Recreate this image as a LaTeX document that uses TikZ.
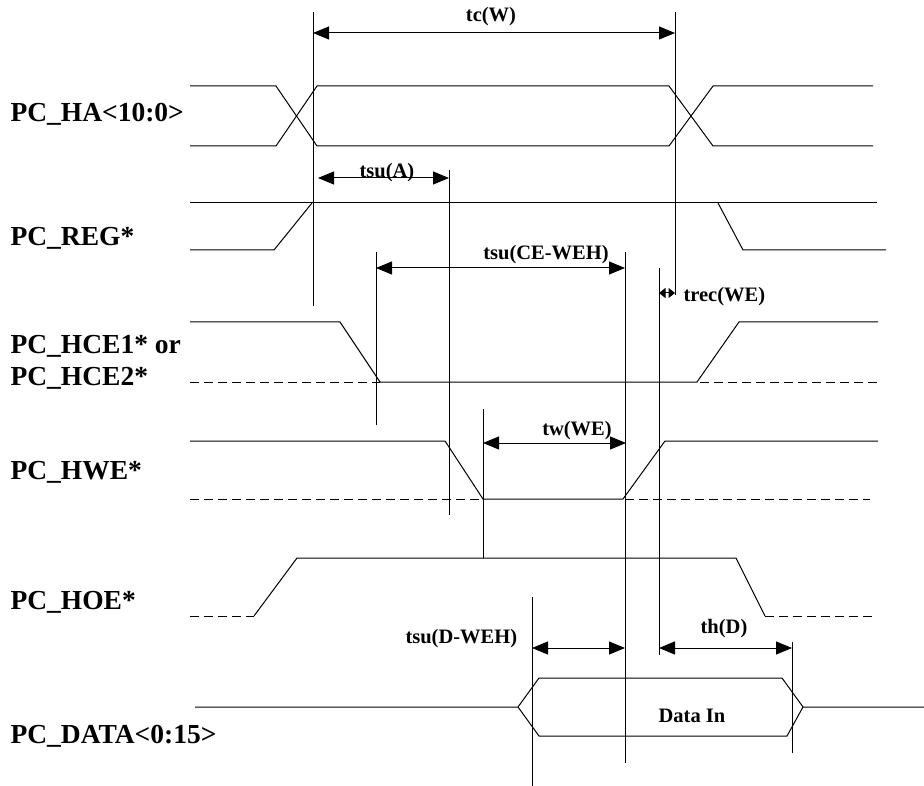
\documentclass[tikz,border=0pt]{standalone}
\usepackage{fontspec}
\setmainfont{Liberation Serif}
\usetikzlibrary{arrows.meta}
\begin{document}
\begin{tikzpicture}[x=1pt,y=-1pt,line width=1pt,
  sig/.style={draw=black},
  dsig/.style={draw=black,dash pattern=on 9pt off 5pt},
  guide/.style={draw=black,line width=0.9pt},
  dim/.style={{Triangle[length=16pt,width=13pt]}-{Triangle[length=16pt,width=13pt]}},
  sdim/.style={{Triangle[length=6.5pt,width=10pt]}-{Triangle[length=6.5pt,width=10pt]}},
  siglabel/.style={anchor=base west,inner sep=0pt,font=\bfseries\fontsize{27.5}{32}\selectfont},
  tlabel/.style={anchor=base,inner sep=0pt,font=\bfseries\fontsize{20.5}{24}\selectfont},
  tlabelw/.style={tlabel,anchor=base west}]
\useasboundingbox (0,0) rectangle (924,786);

% signal names
\node[siglabel] (lha)   at (10,122) {PC\_HA<10:0>};
\node[siglabel] (lreg)  at (10,246) {PC\_REG*};
\node[siglabel] (lce1)  at (10,353) {PC\_HCE1* or};
\node[siglabel] (lce2)  at (10,385) {PC\_HCE2*};
\node[siglabel] (lhwe)  at (10,479) {PC\_HWE*};
\node[siglabel] (lhoe)  at (10,609) {PC\_HOE*};
\node[siglabel] (ldata) at (10,743) {PC\_DATA<0:15>};

% PC_HA bus
\draw[sig] (190,86) -- (276,86) -- (317,146) -- (669,146) -- (713,86) -- (873,86);
\draw[sig] (190,146) -- (276,146) -- (317,86) -- (669,86) -- (713,146) -- (873,146);

% PC_REG*
\draw[sig] (190,250) -- (274,250) -- (312,203);
\draw[sig] (190,203) -- (877,203);
\draw[sig] (718,203) -- (743,250) -- (886,250);

% PC_HCE*
\draw[sig] (190,322) -- (340,322) -- (380,382) -- (697,382) -- (739,322) -- (878,322);
\draw[dsig] (190,382) -- (380,382);
\draw[dsig] (700,382) -- (878,382);

% PC_HWE*
\draw[sig] (190,441) -- (445,441) -- (483,499) -- (623,499) -- (665,441) -- (878,441);
\draw[dsig] (190,499) -- (483,499);
\draw[dsig] (625,499) -- (870,499);

% PC_HOE*
\draw[dsig] (190,616) -- (254,616);
\draw[sig] (254,616) -- (297,558) -- (736,558) -- (765,616);
\draw[dsig] (765,616) -- (873,616);

% PC_DATA bus
\draw[sig] (195,707) -- (518,707) -- (539,678) -- (782,678) -- (803,707) -- (924,707);
\draw[sig] (518,707) -- (539,736) -- (787,736) -- (803,707);
\node[tlabel] (datain) at (692,722) {Data In};

% guide lines
\coordinate (g1t) at (313,12);  \coordinate (g1b) at (313,306);
\coordinate (g2t) at (675,12);  \coordinate (g2b) at (675,295);
\coordinate (g3t) at (449,170); \coordinate (g3b) at (449,515);
\coordinate (g4t) at (376,252); \coordinate (g4b) at (376,425);
\coordinate (g5t) at (625,252); \coordinate (g5b) at (625,763);
\coordinate (g6t) at (659,268); \coordinate (g6b) at (659,655);
\coordinate (g7t) at (483,409); \coordinate (g7b) at (483,558);
\coordinate (g8t) at (532,597); \coordinate (g8b) at (532,786);
\coordinate (g9t) at (792,642); \coordinate (g9b) at (792,753);
\foreach \g in {1,...,9} {\draw[guide] (g\g t) -- (g\g b);}

% timing arrows
\coordinate (tcL) at (313,33);  \coordinate (tcR) at (675,33);
\draw[dim] (tcL) -- (tcR);
\node[tlabel] (ltc) at (491,22) {tc(W)};

\coordinate (suAL) at (318,178); \coordinate (suAR) at (449,178);
\draw[dim] (suAL) -- (suAR);
\node[tlabel] (lsuA) at (387,178) {tsu(A)};

\coordinate (ceL) at (376,268); \coordinate (ceR) at (625,268);
\draw[dim] (ceL) -- (ceR);
\node[tlabel] (lce) at (546,260) {tsu(CE-WEH)};

\coordinate (recL) at (659,293); \coordinate (recR) at (675,293);
\draw[sdim] (recL) -- (recR);
\node[tlabelw] (lrec) at (683,302) {trec(WE)};

\coordinate (twL) at (483,443); \coordinate (twR) at (626,443);
\draw[dim] (twL) -- (twR);
\node[tlabel] (ltw) at (577,435) {tw(WE)};

\coordinate (sdL) at (532,648); \coordinate (sdR) at (625,648);
\draw[dim] (sdL) -- (sdR);
\node[tlabelw] (lsd) at (405,643) {tsu(D-WEH)};

\coordinate (thL) at (659,648); \coordinate (thR) at (792,648);
\draw[dim] (thL) -- (thR);
\node[tlabel] (lth) at (724,633) {th(D)};
\end{tikzpicture}
\end{document}
